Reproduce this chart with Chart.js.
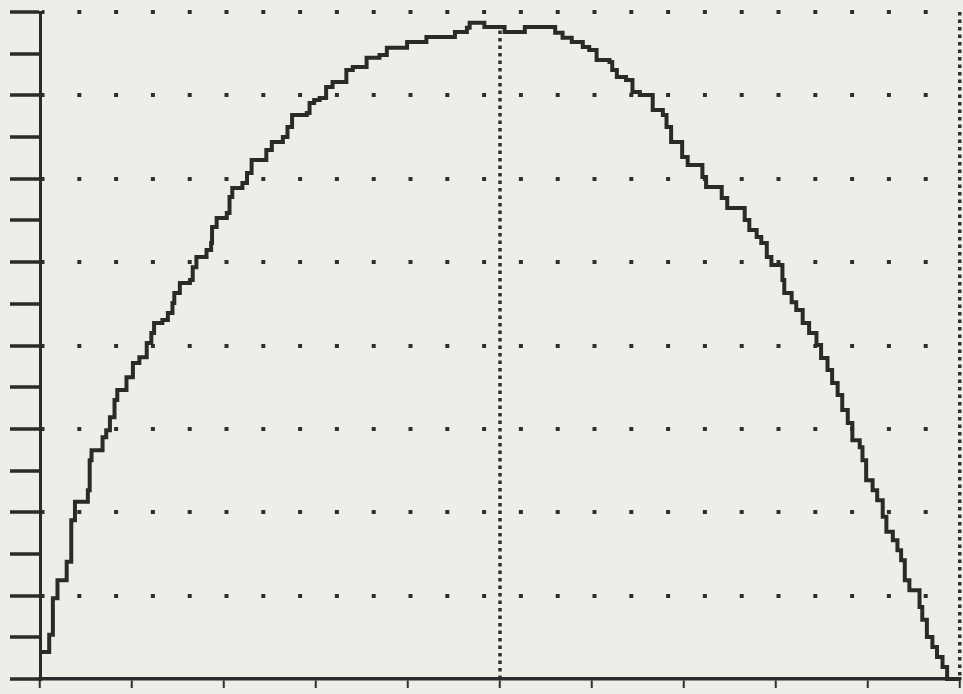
<!DOCTYPE html>
<html>
<head>
<meta charset="utf-8">
<script src="https://cdn.jsdelivr.net/npm/chart.js@4/dist/chart.umd.min.js"></script>
<style>
  html, body { margin: 0; padding: 0; background: #eeeee9; overflow: hidden; }
  #wrap { position: relative; width: 963px; height: 694px; }
</style>
</head>
<body>
<div id="wrap"><canvas id="c"></canvas></div>
<script>
// ---- data ----
const curveX = [0, 1.0, 1.4, 1.9, 2.9, 3.4, 3.8, 5.2, 5.4, 5.6, 6.8, 7.2, 7.6, 8.1, 8.4, 9.4,
  10.1, 10.8, 11.6, 12.1, 12.4, 13.3, 13.9, 14.4, 14.6, 15.2, 16.3, 16.6, 17.0, 18.1, 18.6, 18.7,
  19.2, 20.3, 20.6, 20.9, 22.0, 22.5, 23.0, 24.6, 25.2, 26.4, 26.9, 27.4, 29.0, 29.3, 29.8, 30.4,
  31.1, 31.8, 33.3, 34.0, 35.5, 36.9, 37.7, 39.9, 42.0, 45.1, 46.4, 46.7, 48.3, 50.5, 52.7, 56.0,
  56.8, 57.8, 59.0, 59.7, 60.5, 61.9, 62.2, 62.7, 63.7, 64.4, 65.2, 66.6, 67.7, 68.1, 68.6, 69.8,
  70.4, 72.0, 72.4, 74.1, 74.7, 76.6, 77.1, 77.9, 78.4, 79.0, 79.5, 80.7, 80.9, 81.7, 82.2, 82.9,
  83.6, 84.4, 84.9, 85.6, 86.1, 86.7, 87.2, 87.8, 88.3, 89.1, 89.4, 89.8, 90.5, 91.0, 91.6, 92.0,
  92.7, 93.2, 93.6, 94.0, 94.5, 95.6, 95.9, 96.4, 97.0, 97.5, 98.1, 98.6, 100];
const curveY = [0.65, 1.06, 1.94, 2.37, 2.81, 3.81, 4.25, 4.53, 5.25, 5.49, 5.80, 5.97, 6.28, 6.69, 6.93, 7.24,
  7.58, 7.72, 8.06, 8.30, 8.54, 8.61, 8.78, 9.02, 9.26, 9.50, 9.57, 9.88, 10.12, 10.29, 10.46, 10.84,
  11.06, 11.18, 11.56, 11.78, 11.90, 12.14, 12.45, 12.69, 12.88, 13.00, 13.24, 13.53, 13.58, 13.82, 13.89, 13.94,
  14.20, 14.32, 14.61, 14.68, 14.90, 14.97, 15.14, 15.28, 15.40, 15.52, 15.62, 15.74, 15.64, 15.52, 15.64, 15.50,
  15.38, 15.28, 15.16, 15.09, 14.85, 14.80, 14.61, 14.44, 14.37, 14.08, 14.01, 13.65, 13.53, 13.24, 12.88, 12.52,
  12.33, 12.04, 11.80, 11.54, 11.30, 11.01, 10.77, 10.60, 10.46, 10.12, 9.93, 9.57, 9.26, 9.04, 8.85, 8.54,
  8.30, 8.01, 7.70, 7.41, 7.10, 6.81, 6.45, 6.14, 5.73, 5.56, 5.25, 4.77, 4.53, 4.29, 3.89, 3.53,
  3.33, 3.09, 2.85, 2.37, 2.13, 1.73, 1.42, 1.01, 0.77, 0.53, 0.29, 0, 0];
const xTickValues = [0, 10, 20, 30, 40, 50, 60, 70, 80, 90, 100];
const yTickValues = [0, 1, 2, 3, 4, 5, 6, 7, 8, 9, 10, 11, 12, 13, 14, 15, 16];
const dottedRowValues = [2, 4, 6, 8, 10, 12, 14, 16];
const markerX = 50;

// ---- derived ----
const xMin = 0, xMax = 100, yMin = 0, yMax = 16;
let markerTop = 0;
for (let i = 0; i < curveX.length; i++) { if (curveX[i] <= markerX) markerTop = curveY[i]; }

const ink = '#2e2e2e';

new Chart(document.getElementById('c'), {
  type: 'line',
  data: {
    datasets: [
      {
        data: curveX.map((x, i) => ({ x: x, y: curveY[i] })),
        stepped: true,
        borderColor: '#2a2a2a',
        borderWidth: 4,
        pointRadius: 0,
        fill: false,
        clip: 4
      },
      {
        data: [{ x: markerX, y: 0 }, { x: markerX, y: markerTop }],
        borderColor: ink,
        borderWidth: 3.5,
        borderDash: [3.5, 4],
        pointRadius: 0,
        fill: false
      }
    ]
  },
  options: {
    responsive: true,
    maintainAspectRatio: false,
    animation: false,
    events: [],
    layout: { padding: { left: 10, right: 3, top: 12, bottom: 6 } },
    plugins: { legend: { display: false }, tooltip: { enabled: false }, title: { display: false } },
    scales: {
      x: {
        type: 'linear',
        min: xMin,
        max: xMax,
        afterBuildTicks: s => { s.ticks = xTickValues.map(v => ({ value: v })); },
        ticks: { display: false },
        grid: {
          color: c => (c.tick && c.tick.value === xMax) ? ink : 'rgba(0,0,0,0)',
          lineWidth: 3.5,
          tickColor: ink,
          tickWidth: 2,
          tickLength: 9
        },
        border: { display: true, color: '#2a2a2a', width: 3.5, dash: [3.5, 4], dashOffset: 0 }
      },
      y: {
        type: 'linear',
        min: yMin,
        max: yMax,
        afterBuildTicks: s => { s.ticks = yTickValues.map(v => ({ value: v })); },
        ticks: { display: false },
        grid: {
          color: c => (c.tick && dottedRowValues.includes(c.tick.value)) ? ink : 'rgba(0,0,0,0)',
          lineWidth: 4,
          tickColor: '#2a2a2a',
          tickWidth: 3.5,
          tickLength: 30
        },
        border: { display: true, color: '#2a2a2a', width: 3, dash: [4, 32.8], dashOffset: 1.5 }
      }
    }
  }
});
</script>
</body>
</html>
